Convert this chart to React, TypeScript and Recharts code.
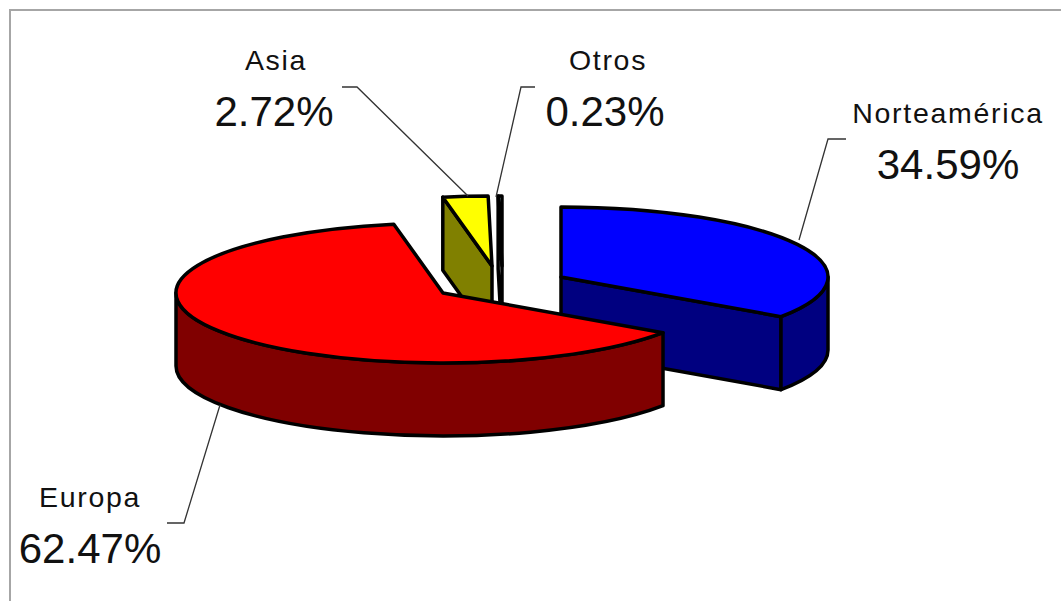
import React from 'react';
import { PieChart, Pie } from 'recharts';

// drawn in this order so Europa ends up on top of the small slices
const categories = ['Asia', 'Otros', 'Norteamérica', 'Europa'];
const shares = [2.72, 0.23, 34.59, 62.47];
const topColors = ['#ffff00', '#ccffff', '#0000ff', '#ff0000'];
const wallColors = ['#808000', '#ffffff', '#000080', '#800000'];

const data = categories.map((name, i) => ({ name, value: shares[i] }));

const CHART_W = 1061;
const CHART_H = 601;
const CX = 500;
const CY = 280;
const RADIUS = 267;
const SQUASH = 70 / 267;
const DEPTH = 73;

// how far each slice is pulled out of the pie
const explode: Record<string, [number, number]> = {
  'Asia': [-8, -14],
  'Otros': [2, -14],
  'Norteamérica': [61, -3],
  'Europa': [-57, 13],
};

const labelLayout: Record<string, { x: number; nameY: number; pctX: number; pctY: number; line: string }> = {
  'Asia': { x: 276, nameY: 70, pctX: 274, pctY: 126, line: '342,87 357,87 468,196' },
  'Otros': { x: 608, nameY: 70, pctX: 605, pctY: 126, line: '535,87 521,87 496,197' },
  'Norteamérica': { x: 948, nameY: 123, pctX: 948, pctY: 179, line: '846,139 828,139 799,240' },
  'Europa': { x: 90, nameY: 507, pctX: 90, pctY: 563, line: '167,523 184,523 220,405' },
};

const rad = (a: number) => (a * Math.PI) / 180;

const SliceShape = (props: any) => {
  const { cx, cy, outerRadius, startAngle, endAngle, name, index } = props;
  const [dx, dy] = explode[name];
  const rx = outerRadius;
  const ry = outerRadius * SQUASH;
  const ox = cx + dx;
  const oy = cy + dy;
  const px = (a: number) => ox + rx * Math.cos(rad(a));
  const py = (a: number) => oy - ry * Math.sin(rad(a));
  const top = topColors[index];
  const wall = wallColors[index];
  const edge = { stroke: '#000', strokeWidth: 3.5, strokeLinejoin: 'round' as const };

  const large = Math.abs(startAngle - endAngle) > 180 ? 1 : 0;
  const topPath = `M${ox},${oy} L${px(startAngle)},${py(startAngle)} A${rx},${ry} 0 ${large} 1 ${px(endAngle)},${py(endAngle)} Z`;

  // cut faces, only the ones turned towards the viewer
  const cut = (a: number) => `M${ox},${oy} L${px(a)},${py(a)} L${px(a)},${py(a) + DEPTH} L${ox},${oy + DEPTH} Z`;
  const faces: string[] = [];
  if (Math.sin(rad(startAngle + 90)) < -0.001) faces.push(cut(startAngle));
  if (Math.sin(rad(endAngle - 90)) < -0.001) faces.push(cut(endAngle));

  // outer wall, the part of the rim on the front half
  const walls: string[] = [];
  for (let k = -1; k <= 1; k++) {
    const a1 = Math.min(startAngle, 360 * k);
    const a2 = Math.max(endAngle, 360 * k - 180);
    if (a1 > a2) {
      walls.push(
        `M${px(a1)},${py(a1)} A${rx},${ry} 0 0 1 ${px(a2)},${py(a2)} L${px(a2)},${py(a2) + DEPTH} A${rx},${ry} 0 0 0 ${px(a1)},${py(a1) + DEPTH} Z`
      );
    }
  }

  return (
    <g>
      {faces.map((d, i) => <path key={'f' + i} d={d} fill={wall} {...edge} />)}
      {walls.map((d, i) => <path key={'w' + i} d={d} fill={wall} {...edge} />)}
      <path d={topPath} fill={top} {...edge} />
    </g>
  );
};

const SliceLabel = (props: any) => {
  const { name, value } = props;
  const l = labelLayout[name];
  return (
    <g style={{ fontFamily: '"Liberation Sans", Arial, sans-serif' }}>
      <polyline points={l.line} fill="none" stroke="#333" strokeWidth={1.3} />
      <text x={l.x} y={l.nameY} textAnchor="middle" fontSize={28.5} letterSpacing={1.7} fill="#111">{name}</text>
      <text x={l.pctX} y={l.pctY} textAnchor="middle" fontSize={42} fill="#111">{value.toFixed(2)}%</text>
    </g>
  );
};

const startAngle = 90 + ((shares[0] + shares[1]) / shares.reduce((a, b) => a + b, 0)) * 360;

export default function App() {
  return (
    <div style={{ position: 'absolute', left: 0, top: 0, width: CHART_W, height: CHART_H, background: '#fff', overflow: 'hidden' }}>
      <div style={{ position: 'absolute', left: 9, top: 9, right: 0, bottom: 0, borderTop: '2px solid #a6a6a6', borderLeft: '2px solid #a6a6a6' }} />
      <PieChart width={CHART_W} height={CHART_H} margin={{ top: 0, right: 0, bottom: 0, left: 0 }}>
        <Pie
          data={data}
          dataKey="value"
          nameKey="name"
          cx={CX}
          cy={CY}
          outerRadius={RADIUS}
          startAngle={startAngle}
          endAngle={startAngle - 360}
          paddingAngle={0}
          stroke="none"
          shape={SliceShape}
          label={SliceLabel}
          labelLine={false}
          isAnimationActive={false}
        />
      </PieChart>
    </div>
  );
}
